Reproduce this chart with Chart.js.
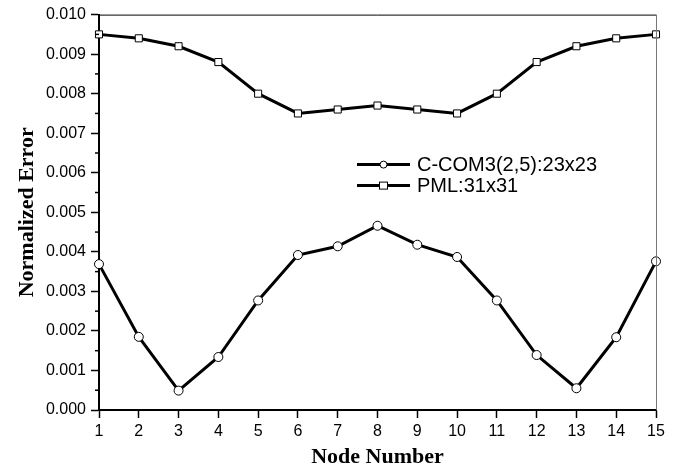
<!DOCTYPE html>
<html>
<head>
<meta charset="utf-8">
<script src="https://cdn.jsdelivr.net/npm/chart.js@4"></script>
<style>
  html, body { margin: 0; padding: 0; background: #fff; }
  #wrap { width: 674px; height: 475px; }
</style>
</head>
<body>
<div id="wrap"><canvas id="myChart"></canvas></div>
<script>
const nodes = ['1','2','3','4','5','6','7','8','9','10','11','12','13','14','15'];

const ccomLabel = 'C-COM3(2,5):23x23';
const ccomErr = [
  0.00369, 0.00185, 0.00049, 0.00134, 0.00277, 0.00392, 0.00414, 0.00466,
  0.00418, 0.00387, 0.00277, 0.00139, 0.00055, 0.00184, 0.00376
];

const pmlLabel = 'PML:31x31';
const pmlErr = [
  0.0095, 0.0094, 0.0092, 0.0088, 0.0080, 0.0075, 0.0076, 0.0077,
  0.0076, 0.0075, 0.0080, 0.0088, 0.0092, 0.0094, 0.0095
];

const yMin = 0, yMax = 0.010, yStep = 0.001;

// frame (top/right lines), minor ticks on y, legend inside plot
const extras = {
  id: 'extras',
  afterDraw(chart) {
    const ctx = chart.ctx;
    const a = chart.chartArea;
    const ys = chart.scales.y;
    ctx.save();
    ctx.lineWidth = 1;
    ctx.strokeStyle = '#000';
    ctx.beginPath();
    ctx.moveTo(a.left, a.top + 0.5);
    ctx.lineTo(a.right, a.top + 0.5);
    ctx.stroke();
    ctx.strokeStyle = '#777';
    ctx.beginPath();
    ctx.moveTo(a.right + 0.5, a.top);
    ctx.lineTo(a.right + 0.5, a.bottom);
    ctx.stroke();

    // minor ticks halfway between major ticks
    ctx.strokeStyle = '#000';
    ctx.lineWidth = 1.5;
    const t = ys.ticks;
    for (let i = 0; i < t.length - 1; i++) {
      const py = ys.getPixelForValue((t[i].value + t[i + 1].value) / 2);
      ctx.beginPath();
      ctx.moveTo(a.left - 4, py);
      ctx.lineTo(a.left, py);
      ctx.stroke();
    }

    // legend
    const lx = a.left + 258, ly = a.top + 150, gap = 21;
    chart.data.datasets.forEach((ds, i) => {
      const y = ly + i * gap;
      ctx.strokeStyle = '#000';
      ctx.lineWidth = 3;
      ctx.beginPath();
      ctx.moveTo(lx, y);
      ctx.lineTo(lx + 53, y);
      ctx.stroke();
      ctx.lineWidth = 1;
      ctx.fillStyle = '#fff';
      if (ds.pointStyle === 'rect') {
        ctx.fillRect(lx + 22, y - 4, 9, 8);
        ctx.strokeRect(lx + 22.5, y - 3.5, 8, 7);
      } else {
        ctx.beginPath();
        ctx.arc(lx + 26.5, y, 3.5, 0, Math.PI * 2);
        ctx.fill();
        ctx.stroke();
      }
      ctx.fillStyle = '#000';
      ctx.font = '20px "Liberation Sans", Arial, sans-serif';
      ctx.textBaseline = 'middle';
      ctx.fillText(ds.label, lx + 60, y + 1);
    });
    ctx.restore();
  }
};

const tickFont = { family: '"Liberation Sans", Arial, sans-serif', size: 16 };
const titleFont = { family: '"Liberation Serif", "Times New Roman", serif', size: 22, weight: 'bold' };

new Chart(document.getElementById('myChart'), {
  type: 'line',
  data: {
    labels: nodes,
    datasets: [
      {
        label: ccomLabel,
        data: ccomErr,
        borderColor: '#000',
        borderWidth: 3,
        pointStyle: 'circle',
        pointRadius: 4.5,
        pointBorderWidth: 1,
        pointBackgroundColor: '#fff',
        pointBorderColor: '#000',
        tension: 0
      },
      {
        label: pmlLabel,
        data: pmlErr,
        borderColor: '#000',
        borderWidth: 3,
        pointStyle: 'rect',
        pointRadius: 5,
        pointBorderWidth: 1,
        pointBackgroundColor: '#fff',
        pointBorderColor: '#000',
        tension: 0
      }
    ]
  },
  options: {
    responsive: true,
    maintainAspectRatio: false,
    animation: false,
    layout: { padding: { left: 0, right: 18, top: 12, bottom: 0 } },
    plugins: {
      legend: { display: false },
      tooltip: { enabled: false }
    },
    scales: {
      x: {
        type: 'category',
        offset: false,
        border: { color: '#000', width: 2 },
        grid: { drawOnChartArea: false, drawTicks: true, tickLength: 8, tickColor: '#000', tickWidth: 1.5 },
        ticks: { color: '#000', font: tickFont, padding: 4, maxRotation: 0, autoSkip: false },
        title: { display: true, text: 'Node Number', color: '#000', font: titleFont, padding: { top: 4, bottom: 4 } },
        afterFit(s) { s.height = 65; }
      },
      y: {
        min: yMin,
        max: yMax,
        border: { color: '#000', width: 2 },
        grid: { drawOnChartArea: false, drawTicks: true, tickLength: 8, tickColor: '#000', tickWidth: 1.5 },
        ticks: {
          stepSize: yStep,
          color: '#000',
          font: tickFont,
          padding: 5,
          callback: v => v.toFixed(3)
        },
        title: { display: true, text: 'Normalized Error', color: '#000', font: titleFont, padding: { top: 14, bottom: 0 } },
        afterFit(s) { s.width = 99; }
      }
    }
  },
  plugins: [extras]
});
</script>
</body>
</html>
